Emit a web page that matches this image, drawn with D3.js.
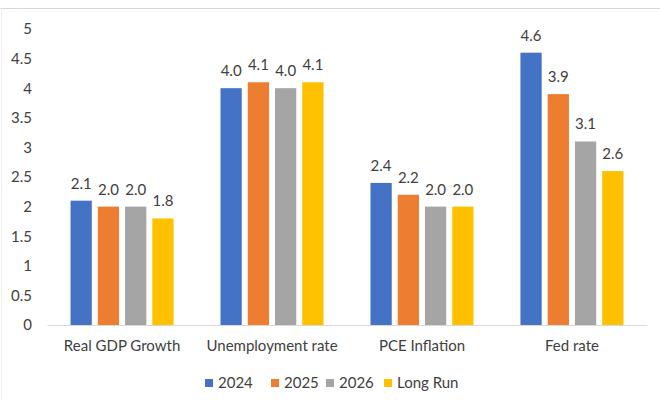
<!DOCTYPE html>
<html>
<head>
<meta charset="UTF-8">
<title>Economic projections</title>
<script src="https://cdn.jsdelivr.net/npm/d3@7"></script>
<style>
  body { margin: 0; background: #fff; }
  svg text { font-family: Lato, "Open Sans", sans-serif; fill: #404040; }
</style>
</head>
<body>
<script>
// data
var categories = ["Real GDP Growth", "Unemployment rate", "PCE Inflation", "Fed rate"];
var seriesNames = ["2024", "2025", "2026", "Long Run"];
var seriesColors = ["#4472C4", "#ED7D31", "#A5A5A5", "#FFC000"];
var v2024 = [2.1, 4.0, 2.4, 4.6];
var v2025 = [2.0, 4.1, 2.2, 3.9];
var v2026 = [2.0, 4.0, 2.0, 3.1];
var vLongRun = [1.8, 4.1, 2.0, 2.6];
var yTicks = [0, 0.5, 1, 1.5, 2, 2.5, 3, 3.5, 4, 4.5, 5];

var values = [v2024, v2025, v2026, vLongRun];

var width = 660, height = 400;
var fs = "15px";
var svg = d3.select("body").append("svg")
  .attr("width", width)
  .attr("height", height);

// frame lines from the screenshot
svg.append("line")
  .attr("x1", 0).attr("x2", width)
  .attr("y1", 8.5).attr("y2", 8.5)
  .attr("stroke", "#d9d9d9");
svg.append("line")
  .attr("x1", 1.5).attr("x2", 1.5)
  .attr("y1", 8).attr("y2", height)
  .attr("stroke", "#eeeeee");

var x0 = d3.scaleBand()
  .domain(categories)
  .range([47, 647])
  .paddingInner(0.313)
  .paddingOuter(0.157);

var x1 = d3.scaleBand()
  .domain(seriesNames)
  .range([0, x0.bandwidth()])
  .paddingInner(0.22);

var y = d3.scaleLinear()
  .domain([0, 5])
  .range([325, 29]);

// y axis labels only, no line
var yAxis = svg.append("g")
  .attr("transform", "translate(32,0)")
  .call(d3.axisLeft(y).tickValues(yTicks).tickSize(0).tickPadding(0)
    .tickFormat(function(d) { return d; }));
yAxis.select(".domain").remove();
yAxis.selectAll("text")
  .style("font-family", "Lato, 'Open Sans', sans-serif")
  .style("font-size", fs)
  .style("fill", "#404040");

var groups = svg.selectAll("g.cat")
  .data(categories)
  .enter().append("g")
  .attr("class", "cat")
  .attr("transform", function(d) { return "translate(" + x0(d) + ",0)"; });

groups.selectAll("rect")
  .data(function(d, i) {
    return seriesNames.map(function(s, j) { return { s: s, v: values[j][i], c: seriesColors[j] }; });
  })
  .enter().append("rect")
  .attr("x", function(d) { return x1(d.s); })
  .attr("y", function(d) { return y(d.v); })
  .attr("width", x1.bandwidth())
  .attr("height", function(d) { return y(0) - y(d.v); })
  .attr("fill", function(d) { return d.c; });

groups.selectAll("text.val")
  .data(function(d, i) {
    return seriesNames.map(function(s, j) { return { s: s, v: values[j][i] }; });
  })
  .enter().append("text")
  .attr("class", "val")
  .attr("x", function(d) { return x1(d.s) + x1.bandwidth() / 2; })
  .attr("y", function(d) { return y(d.v) - 12; })
  .attr("text-anchor", "middle")
  .style("font-size", fs)
  .text(function(d) { return d.v.toFixed(1); });

// baseline + category labels
var xAxis = svg.append("g")
  .attr("transform", "translate(0," + y(0) + ")")
  .call(d3.axisBottom(x0).tickSize(0).tickPadding(15));
xAxis.select(".domain").attr("stroke", "#d9d9d9");
xAxis.selectAll("text")
  .style("font-family", "Lato, 'Open Sans', sans-serif")
  .style("font-size", fs)
  .style("fill", "#404040");

// legend
var legendX = [205, 271, 326, 384];
var legend = svg.selectAll("g.leg")
  .data(seriesNames)
  .enter().append("g")
  .attr("class", "leg")
  .attr("transform", function(d, i) { return "translate(" + legendX[i] + ",383)"; });
legend.append("rect")
  .attr("x", 0).attr("y", -4)
  .attr("width", 8).attr("height", 8)
  .attr("fill", function(d, i) { return seriesColors[i]; });
legend.append("text")
  .attr("x", 13).attr("y", 5)
  .style("font-size", fs)
  .text(function(d) { return d; });
</script>
</body>
</html>
